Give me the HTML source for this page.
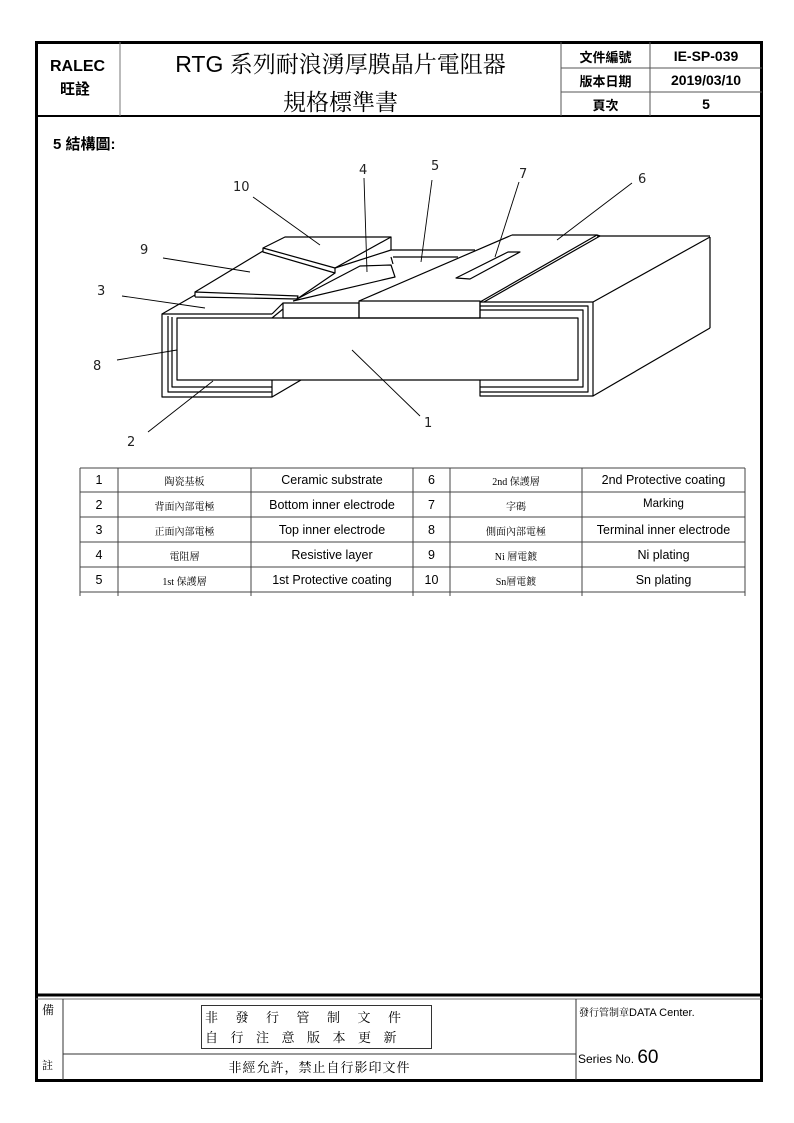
<!DOCTYPE html>
<html><head><meta charset="utf-8">
<style>
body{margin:0;width:794px;height:1123px;background:#fff;position:relative;overflow:hidden;font-family:"Liberation Sans","Noto Sans CJK TC",sans-serif;color:#000}
.a{position:absolute;white-space:nowrap}
.c{text-align:center}
.cj{font-family:"Liberation Serif","Noto Serif CJK SC","Noto Sans CJK TC",serif}
.b{font-weight:bold}
</style></head><body>
<svg class="a" style="left:0;top:0" width="794" height="1123" viewBox="0 0 794 1123">
<g fill="none" stroke="#000">
<!-- outer frame -->
<rect x="36.5" y="42.5" width="725" height="1038" stroke-width="3"/>
<line x1="36" y1="116" x2="762" y2="116" stroke-width="2"/>
<line x1="120" y1="42" x2="120" y2="116" stroke="#777"/>
<line x1="561" y1="42" x2="561" y2="116" stroke="#555"/>
<line x1="650" y1="42" x2="650" y2="116" stroke="#555"/>
<line x1="561" y1="68" x2="762" y2="68" stroke="#555"/>
<line x1="561" y1="92" x2="762" y2="92" stroke="#555"/>
<!-- footer -->
<line x1="36" y1="995" x2="762" y2="995" stroke-width="3"/>
<line x1="36" y1="999" x2="762" y2="999" stroke="#777"/>
<line x1="63" y1="999" x2="63" y2="1080" stroke="#333"/>
<line x1="576" y1="999" x2="576" y2="1080" stroke="#333"/>
<line x1="63" y1="1054" x2="576" y2="1054" stroke="#333"/>
<rect x="201.5" y="1005.5" width="230" height="43" stroke="#333"/>
<!-- table -->
<g stroke="#444" stroke-width="1">
<line x1="80" y1="468" x2="745" y2="468"/>
<line x1="80" y1="492" x2="745" y2="492"/>
<line x1="80" y1="517" x2="745" y2="517"/>
<line x1="80" y1="542" x2="745" y2="542"/>
<line x1="80" y1="567" x2="745" y2="567"/>
<line x1="80" y1="592" x2="745" y2="592"/>
<line x1="80" y1="468" x2="80" y2="596"/>
<line x1="118" y1="468" x2="118" y2="596"/>
<line x1="251" y1="468" x2="251" y2="596"/>
<line x1="413" y1="468" x2="413" y2="596"/>
<line x1="450" y1="468" x2="450" y2="596"/>
<line x1="582" y1="468" x2="582" y2="596"/>
<line x1="745" y1="468" x2="745" y2="596"/>
</g>
<!-- diagram -->
<g stroke-width="1.2" stroke-linejoin="round">
<!-- substrate -->
<rect x="177" y="318" width="401" height="62"/>
<!-- left terminal -->
<polyline points="272,314 162,314 162,397 272,397 272,380"/>
<polyline points="168,316 168,392 272,392"/>
<polyline points="172,317 172,387 272,387"/>
<line x1="272" y1="397" x2="301" y2="380"/>
<!-- right terminal -->
<polyline points="480,302 593,302 593,396 480,396 480,380"/>
<polyline points="480,306 588,306 588,392 480,392"/>
<polyline points="480,310 583,310 583,387 480,387"/>
<line x1="480" y1="302" x2="480" y2="318"/>
<!-- right side face -->
<line x1="593" y1="302" x2="710" y2="237"/>
<line x1="593" y1="396" x2="710" y2="328"/>
<line x1="710" y1="237" x2="710" y2="328"/>
<line x1="597" y1="236" x2="710" y2="236"/>
<!-- 2nd coat edge -->
<polyline points="480,302 597,235 600,236 484,302"/>
<!-- right top block -->
<line x1="512" y1="235" x2="597" y2="235"/>
<line x1="359" y1="301" x2="512" y2="235"/>
<rect x="359" y="301" width="121" height="17"/>
<!-- marking -->
<polygon points="456,278 470,279 520,252 508,252"/>
<!-- 1st coat back -->
<polyline points="391,250 475,250"/>
<polyline points="393,257 458,257"/>
<!-- resistive layer -->
<polyline points="297,299 360,266 391,265 395,277 293,301"/>
<polyline points="391,257 393,264"/>
<!-- step block 3 -->
<rect x="283" y="303" width="76" height="15"/>
<polyline points="272,314 274,312 283,303"/>
<line x1="272" y1="318" x2="283" y2="309"/>
<!-- 3 top electrode -->
<line x1="162" y1="314" x2="195" y2="295"/>
<!-- Ni -->
<polyline points="195,297 195,292 298,296 297,299 195,297"/>
<line x1="195" y1="292" x2="263" y2="251"/>
<!-- Sn -->
<polygon points="263,248 285,237 391,237 391,250 335,268 335,273 263,252"/>
<line x1="263" y1="248" x2="335" y2="268"/>
<line x1="391" y1="237" x2="335" y2="268"/>
<line x1="335" y1="273" x2="297" y2="299"/>
</g>
<!-- leaders -->
<g stroke-width="0.9">
<line x1="253" y1="197" x2="320" y2="245"/>
<line x1="163" y1="258" x2="250" y2="272"/>
<line x1="122" y1="296" x2="205" y2="308"/>
<line x1="117" y1="360" x2="177" y2="350"/>
<line x1="148" y1="432" x2="213" y2="381"/>
<line x1="420" y1="416" x2="352" y2="350"/>
<line x1="364" y1="178" x2="367" y2="272"/>
<line x1="432" y1="180" x2="421" y2="262"/>
<line x1="519" y1="182" x2="495" y2="257"/>
<line x1="632" y1="183" x2="557" y2="240"/>
</g>
</g>
<g font-family="DejaVu Sans, sans-serif" font-size="13" fill="#222">
<text x="233" y="191">10</text><text x="140" y="254">9</text><text x="97" y="295">3</text>
<text x="93" y="370">8</text><text x="127" y="446">2</text><text x="424" y="427">1</text>
<text x="359" y="174">4</text><text x="431" y="170">5</text><text x="519" y="178">7</text><text x="638" y="183">6</text>
</g>
</svg>

<!-- header -->
<div class="a b" style="left:50px;top:58px;font-size:16px">RALEC</div>
<div class="a b" style="left:60px;top:78px;font-size:15px;font-family:'Noto Sans CJK TC',sans-serif">旺詮</div>
<div class="a c" style="left:120px;width:441px;top:46px;font-size:23px;font-family:'Liberation Sans','Noto Serif CJK SC',serif">RTG 系列耐浪湧厚膜晶片電阻器</div>
<div class="a c cj" style="left:120px;width:441px;top:84px;font-size:23px">規格標準書</div>
<div class="a c b" style="left:561px;width:89px;top:47px;font-size:13px;font-family:'Noto Sans CJK TC',sans-serif">文件編號</div>
<div class="a c b" style="left:561px;width:89px;top:71px;font-size:13px;font-family:'Noto Sans CJK TC',sans-serif">版本日期</div>
<div class="a c b" style="left:561px;width:89px;top:95px;font-size:13px;font-family:'Noto Sans CJK TC',sans-serif">頁次</div>
<div class="a c b" style="left:650px;width:112px;top:48px;font-size:14px">IE-SP-039</div>
<div class="a c b" style="left:650px;width:112px;top:72px;font-size:14px">2019/03/10</div>
<div class="a c b" style="left:650px;width:112px;top:96px;font-size:14px">5</div>
<div class="a b" style="left:53px;top:133px;font-size:15px;font-family:'Liberation Sans','Noto Sans CJK TC',sans-serif">5 結構圖:</div>

<!-- table text -->
<div class="a" style="left:80px;top:468px;width:665px;font-size:12.5px">
<div style="position:relative">
<div class="a c" style="left:0;width:38px;top:5px">1</div><div class="a c cj" style="left:38px;width:133px;top:5px;font-size:10px">陶瓷基板</div><div class="a c" style="left:171px;width:162px;top:5px">Ceramic substrate</div><div class="a c" style="left:333px;width:37px;top:5px">6</div><div class="a c cj" style="left:370px;width:132px;top:5px;font-size:10px">2nd 保護層</div><div class="a c" style="left:502px;width:163px;top:5px">2nd Protective coating</div>
<div class="a c" style="left:0;width:38px;top:30px">2</div><div class="a c cj" style="left:38px;width:133px;top:30px;font-size:10px">背面內部電極</div><div class="a c" style="left:171px;width:162px;top:30px">Bottom inner electrode</div><div class="a c" style="left:333px;width:37px;top:30px">7</div><div class="a c cj" style="left:370px;width:132px;top:30px;font-size:10px">字碼</div><div class="a c" style="left:502px;width:163px;top:30px;font-size:11.5px">Marking</div>
<div class="a c" style="left:0;width:38px;top:55px">3</div><div class="a c cj" style="left:38px;width:133px;top:55px;font-size:10px">正面內部電極</div><div class="a c" style="left:171px;width:162px;top:55px">Top inner electrode</div><div class="a c" style="left:333px;width:37px;top:55px">8</div><div class="a c cj" style="left:370px;width:132px;top:55px;font-size:10px">側面內部電極</div><div class="a c" style="left:502px;width:163px;top:55px">Terminal inner electrode</div>
<div class="a c" style="left:0;width:38px;top:80px">4</div><div class="a c cj" style="left:38px;width:133px;top:80px;font-size:10px">電阻層</div><div class="a c" style="left:171px;width:162px;top:80px">Resistive layer</div><div class="a c" style="left:333px;width:37px;top:80px">9</div><div class="a c cj" style="left:370px;width:132px;top:80px;font-size:10px">Ni 層電鍍</div><div class="a c" style="left:502px;width:163px;top:80px">Ni plating</div>
<div class="a c" style="left:0;width:38px;top:105px">5</div><div class="a c cj" style="left:38px;width:133px;top:105px;font-size:10px">1st 保護層</div><div class="a c" style="left:171px;width:162px;top:105px">1st Protective coating</div><div class="a c" style="left:333px;width:37px;top:105px">10</div><div class="a c cj" style="left:370px;width:132px;top:105px;font-size:10px">Sn層電鍍</div><div class="a c" style="left:502px;width:163px;top:105px">Sn plating</div>
</div></div>

<!-- footer text -->
<div class="a cj" style="left:42px;top:1001px;font-size:12px">備</div>
<div class="a cj" style="left:42px;top:1057px;font-size:11px">註</div>
<div class="a cj" style="left:205px;top:1007px;font-size:13px;letter-spacing:17.5px">非發行管制文件</div>
<div class="a cj" style="left:205px;top:1027px;font-size:13px;letter-spacing:12.5px">自行注意版本更新</div>
<div class="a c cj" style="left:63px;width:513px;top:1057px;font-size:13px;letter-spacing:1px">非經允許，禁止自行影印文件</div>
<div class="a" style="left:579px;top:1004px;font-size:11px"><span class="cj" style="font-size:10px">發行管制章</span>DATA Center.</div>
<div class="a" style="left:578px;top:1047px;font-size:12px">Series No. <span style="font-size:19px">60</span></div>
</body></html>
